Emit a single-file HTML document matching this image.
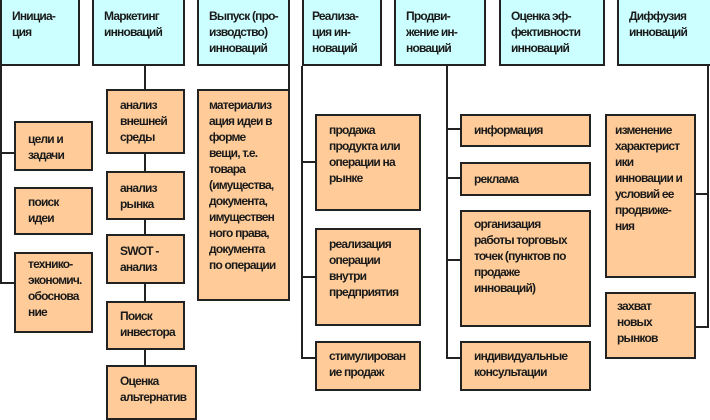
<!DOCTYPE html>
<html><head><meta charset="utf-8"><style>
body{margin:0;width:710px;height:415px;overflow:hidden;background:#fff;position:relative;font-family:"Liberation Sans",sans-serif;}
.b{position:absolute;box-sizing:border-box;border:2px solid #222;font-size:12px;line-height:16px;letter-spacing:-0.8px;font-weight:bold;padding:6px 4px 0 12px;color:#1a1a1a;white-space:nowrap;overflow:hidden;}
.h{background:#ccffff;padding:8px 2px 0 10px;}
.o{background:#ffcc99;}
.l{position:absolute;background:#222;}
</style></head><body>
<!-- headers -->
<div class="b h" style="left:0;top:-2px;width:80px;height:68px">Инициа-<br>ция</div>
<div class="b h" style="left:92px;top:-2px;width:93px;height:68px">Маркетинг<br>инноваций</div>
<div class="b h" style="left:197px;top:-2px;width:93px;height:68px">Выпуск (про-<br>изводство)<br>инноваций</div>
<div class="b h" style="left:302px;top:-2px;width:80px;height:68px;padding-left:8px">Реализа-<br>ция ин-<br>новаций</div>
<div class="b h" style="left:394px;top:-2px;width:92px;height:68px">Продви-<br>жение ин-<br>новаций</div>
<div class="b h" style="left:499px;top:-2px;width:106px;height:68px">Оценка эф-<br>фективности<br>инноваций</div>
<div class="b h" style="left:617px;top:-2px;width:95px;height:68px">Диффузия<br>инноваций</div>
<!-- lines -->
<div class="l" style="left:0;top:66px;width:2px;height:218px"></div>
<div class="l" style="left:0;top:152px;width:14px;height:2px"></div>
<div class="l" style="left:0;top:282px;width:14px;height:2px"></div>
<div class="l" style="left:144px;top:66px;width:2px;height:300px"></div>
<div class="l" style="left:288px;top:66px;width:2px;height:24px"></div>
<div class="l" style="left:301px;top:66px;width:2px;height:293px"></div>
<div class="l" style="left:301px;top:161px;width:14px;height:2px"></div>
<div class="l" style="left:301px;top:276px;width:14px;height:2px"></div>
<div class="l" style="left:301px;top:357px;width:14px;height:2px"></div>
<div class="l" style="left:446px;top:66px;width:2px;height:293px"></div>
<div class="l" style="left:446px;top:128px;width:14px;height:2px"></div>
<div class="l" style="left:446px;top:177px;width:14px;height:2px"></div>
<div class="l" style="left:446px;top:259px;width:14px;height:2px"></div>
<div class="l" style="left:446px;top:357px;width:14px;height:2px"></div>
<div class="l" style="left:707px;top:66px;width:2px;height:262px"></div>
<div class="l" style="left:695px;top:193px;width:14px;height:2px"></div>
<div class="l" style="left:695px;top:326px;width:14px;height:2px"></div>
<!-- col1 -->
<div class="b o" style="left:14px;top:121px;width:79px;height:50px;padding-top:8px">цели и<br>задачи</div>
<div class="b o" style="left:14px;top:187px;width:79px;height:48px;padding-top:5px">поиск<br>идеи</div>
<div class="b o" style="left:14px;top:252px;width:79px;height:81px;padding-top:2px">технико-<br>экономич.<br>обоснова<br>ние</div>
<!-- col2 -->
<div class="b o" style="left:106px;top:89px;width:79px;height:65px;padding-top:6px">анализ<br>внешней<br>среды</div>
<div class="b o" style="left:106px;top:171px;width:79px;height:49px;padding-top:7px">анализ<br>рынка</div>
<div class="b o" style="left:106px;top:234px;width:79px;height:50px;padding-top:7px">SWOT -<br>анализ</div>
<div class="b o" style="left:106px;top:301px;width:79px;height:49px;padding-top:5px">Поиск<br>инвестора</div>
<div class="b o" style="left:106px;top:365px;width:91px;height:55px;padding-top:6px">Оценка<br>альтернатив</div>
<!-- col3 -->
<div class="b o" style="left:197px;top:89px;width:93px;height:212px;padding:6px 2px 0 10px">материализ<br>ация идеи в<br>форме<br>вещи, т.е.<br>товара<br>(имущества,<br>документа,<br>имуществен<br>ного права,<br>документа<br>по операции</div>
<!-- col4 -->
<div class="b o" style="left:315px;top:114px;width:106px;height:97px;padding-top:6px">продажа<br>продукта или<br>операции на<br>рынке</div>
<div class="b o" style="left:315px;top:228px;width:106px;height:98px;padding-top:6px">реализация<br>операции<br>внутри<br>предприятия</div>
<div class="b o" style="left:315px;top:341px;width:106px;height:50px;padding-top:5px">стимулирован<br>ие продаж</div>
<!-- col5 -->
<div class="b o" style="left:460px;top:114px;width:131px;height:33px;padding-top:6px">информация</div>
<div class="b o" style="left:460px;top:162px;width:131px;height:34px;padding-top:7px">реклама</div>
<div class="b o" style="left:460px;top:210px;width:131px;height:117px;padding-top:4px">организация<br>работы торговых<br>точек (пунктов по<br>продаже<br>инноваций)</div>
<div class="b o" style="left:460px;top:341px;width:131px;height:50px;padding-top:5px">индивидуальные<br>консультации</div>
<!-- col7 -->
<div class="b o" style="left:605px;top:114px;width:91px;height:164px;padding:6px 2px 0 8px">изменение<br>характерист<br>ики<br>инновации и<br>условий ее<br>продвиже-<br>ния</div>
<div class="b o" style="left:605px;top:292px;width:91px;height:67px;padding:4px 2px 0 10px">захват<br>новых<br>рынков</div>
</body></html>
